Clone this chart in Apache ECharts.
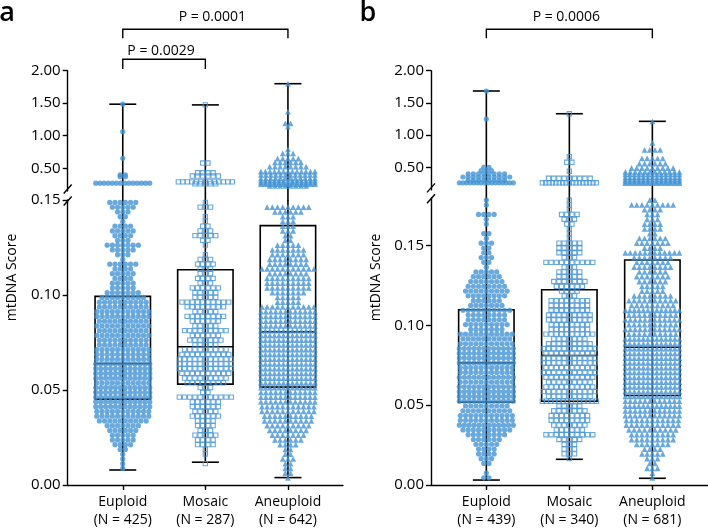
<!DOCTYPE html>
<html><head><meta charset="utf-8">
<script src="https://cdn.jsdelivr.net/npm/echarts@6/dist/echarts.min.js"></script>
<style>html,body{margin:0;padding:0;background:#fff}#c{width:708px;height:529px}</style>
</head><body><div id="c"></div>
<script>
// ---------------- DATA ----------------
const categories = ['Euploid', 'Mosaic', 'Aneuploid'];
const nA = [425, 287, 642];
const nB = [439, 340, 681];
const pLabelsA = ['P = 0.0029', 'P = 0.0001'];
const pLabelsB = ['P = 0.0006'];
const lowerTicks = [0, 0.05, 0.10, 0.15];
const upperTicks = [0.5, 1.0, 1.5, 2.0];

// box statistics: [min, Q1, median, Q3, max]
const boxEuploidA   = [0.0079, 0.0452, 0.0639, 0.0993, 1.485];
const boxMosaicA    = [0.0120, 0.0531, 0.0728, 0.1133, 1.474];
const boxAneuploidA = [0.0039, 0.0515, 0.0806, 0.1365, 1.800];
const boxEuploidB   = [0.0031, 0.0519, 0.0765, 0.1098, 1.685];
const boxMosaicB    = [0.0161, 0.0525, 0.0811, 0.1223, 1.332];
const boxAneuploidB = [0.0042, 0.0561, 0.0863, 0.1410, 1.214];

// lower-segment point counts per value bin (bin k covers k*bin .. (k+1)*bin)
const binA = 0.0025;
const euploidA_bins   = [0,0,0,1,1,1,1,2,4,5, 5,6,7,10,11,11,12,12,12,12, 12,11,12,12,12,12,11,11,11,10, 10,11,10,11,10,11,11,10,10,9, 7,5,5,4,5,4,6,1,3,5, 7,3,4,5,4,1,2,3,5,6];
const mosaicA_bins    = [0,0,0,0,1,0,1,1,4,4, 5,3,4,4,6,5,6,6,11,2, 3,8,9,10,11,11,11,10,9,5, 7,6,9,5,6,8,5,8,10,5, 5,6,3,4,3,3,4,3,1,0, 1,2,5,3,2,1,1,0,3,1];
const aneuploidA_bins = [0,1,2,2,2,3,2,2,4,6, 7,8,9,10,10,11,11,12,12,12, 13,13,13,13,13,13,13,13,13,13, 13,13,13,12,12,12,12,11,5,5, 7,9,9,9,8,11,8,8,7,7, 5,2,2,3,3,3,3,6,9,0];
const binB = 0.003;
const euploidB_bins   = [0,2,1,0,2,3,4,4,5,6, 8,10,12,11,11,10,9,12,12,12, 12,11,12,11,11,12,12,12,12,11, 10,11,7,9,8,8,10,7,6,8, 9,8,7,6,5,1,2,3,2,2, 3,1,2,0,1,1,4,0,1,1];
const mosaicB_bins    = [0,0,0,0,0,1,3,3,3,5, 10,6,7,8,8,7,5,14,9,11, 10,9,10,11,10,11,11,10,11,9, 7,10,8,8,9,9,8,8,8,3, 4,6,7,5,5,3,10,3,5,5, 5,1,1,1,2,3,4,1,1,1];
const aneuploidB_bins = [0,1,1,3,2,3,5,4,7,9, 9,10,11,11,12,12,13,12,13,13, 13,13,13,13,13,13,13,13,13,13, 13,10,12,10,12,10,13,9,10,8, 5,5,6,7,6,8,7,8,12,4, 7,6,2,4,4,3,3,4,9,2];

// upper-segment points: values and how many points share each value
const euploidA_upVals   = [1.485, 1.063, 0.654, 0.40, 0.37, 0.27];
const euploidA_upCounts = [1, 1, 1, 2, 2, 14];
const mosaicA_upVals    = [1.474, 0.58, 0.43, 0.38, 0.29, 0.26];
const mosaicA_upCounts  = [1, 2, 4, 6, 13, 5];
const aneuploidA_upVals   = [1.80, 1.37, 1.19, 1.14, 0.79, 0.73, 0.65, 0.59, 0.525, 0.45, 0.40, 0.345, 0.31, 0.28, 0.255, 0.23];
const aneuploidA_upCounts = [1, 1, 2, 1, 1, 3, 5, 6, 8, 13, 12, 12, 13, 13, 13, 8];
const euploidB_upVals   = [1.685, 1.25, 0.50, 0.45, 0.40, 0.35, 0.30, 0.26];
const euploidB_upCounts = [1, 1, 2, 3, 8, 10, 8, 16];
const mosaicB_upVals    = [1.332, 0.665, 0.578, 0.44, 0.33, 0.26];
const mosaicB_upCounts  = [1, 1, 2, 1, 9, 17];
const aneuploidB_upVals   = [1.214, 0.882, 0.77, 0.64, 0.56, 0.49, 0.43, 0.39, 0.345, 0.31, 0.28, 0.255];
const aneuploidB_upCounts = [1, 1, 4, 5, 6, 9, 12, 13, 13, 13, 13, 13];

// ---------------- LAYOUT / STYLE ----------------
const BLUE = '#4393d4';
const FONT = 'Open Sans';
const catPos = [0.2, 0.5, 0.8];
const lowerMaxA = 0.15, lowerMaxB = 0.18, upperMin = 0.15, upperMax = 2.0;
const G = {
  aLow: {left: 67.7, top: 200, width: 275.3, height: 285.7},
  aUp:  {left: 67.7, top: 70.7, width: 275.3, height: 120.3},
  bLow: {left: 431, top: 197.7, width: 276.7, height: 288},
  bUp:  {left: 431, top: 70.7, width: 276.7, height: 119.2}
};
const BOXW = 27.7, CAPW = 13.5, MAXROW = 54;

function rowsFromBins(counts, bin) {
  return counts.map((c, k) => [(k + 0.5) * bin, c]).filter(r => r[1] > 0);
}
function rowsFromList(vals, counts) { return vals.map((v, i) => [v, counts[i]]); }
function swarm(rows, cx, gridW) {
  const pts = [];
  rows.forEach(([v, n]) => {
    const s = n > 1 ? Math.min(5.2, MAXROW / (n - 1)) : 0;
    for (let i = 0; i < n; i++) pts.push([cx + ((i - (n - 1) / 2) * s) / gridW, v]);
  });
  return pts;
}

const symbols = [
  {symbol: 'circle', symbolSize: 5.2, itemStyle: {color: BLUE}},
  {symbol: 'rect', symbolSize: 4.3, itemStyle: {color: 'rgba(255,255,255,0)', borderColor: BLUE, borderWidth: 1.1}},
  {symbol: 'triangle', symbolSize: 5.8, itemStyle: {color: BLUE}}
];

const panels = [
  {low: 0, up: 1, gl: G.aLow, gu: G.aUp, bin: binA, lowMax: lowerMaxA,
   bins: [euploidA_bins, mosaicA_bins, aneuploidA_bins],
   upV: [euploidA_upVals, mosaicA_upVals, aneuploidA_upVals],
   upC: [euploidA_upCounts, mosaicA_upCounts, aneuploidA_upCounts],
   box: [boxEuploidA, boxMosaicA, boxAneuploidA], n: nA},
  {low: 2, up: 3, gl: G.bLow, gu: G.bUp, bin: binB, lowMax: lowerMaxB,
   bins: [euploidB_bins, mosaicB_bins, aneuploidB_bins],
   upV: [euploidB_upVals, mosaicB_upVals, aneuploidB_upVals],
   upC: [euploidB_upCounts, mosaicB_upCounts, aneuploidB_upCounts],
   box: [boxEuploidB, boxMosaicB, boxAneuploidB], n: nB}
];

const axisLineStyle = {color: '#000', width: 1.4};
const catLabelStyle = {color: '#000', fontFamily: FONT, fontSize: 14};
const tickLabelStyle = {color: '#000', fontFamily: FONT, fontSize: 15};
const fmt2 = v => Number(v).toFixed(2);

const grids = [], xAxes = [], yAxes = [], series = [];
panels.forEach((P, pi) => {
  grids[P.low] = P.gl; grids[P.up] = P.gu;
  const nArr = P.n;
  xAxes[P.low] = {
    gridIndex: P.low, type: 'value', min: 0, max: 1,
    axisLine: {show: true, onZero: false, lineStyle: axisLineStyle},
    axisTick: {show: true, length: 5, customValues: catPos, lineStyle: axisLineStyle},
    axisLabel: Object.assign({}, catLabelStyle, {
      customValues: catPos, margin: 8, lineHeight: 18,
      formatter: v => {
        const i = catPos.findIndex(c => Math.abs(c - v) < 1e-6);
        return i < 0 ? '' : categories[i] + '\n(N = ' + nArr[i] + ')';
      }
    }),
    splitLine: {show: false}
  };
  xAxes[P.up] = {gridIndex: P.up, type: 'value', min: 0, max: 1, show: false};
  yAxes[P.low] = {
    gridIndex: P.low, type: 'value', min: 0, max: P.lowMax,
    axisLine: {show: true, lineStyle: axisLineStyle},
    axisTick: {show: true, length: 5, customValues: lowerTicks, lineStyle: axisLineStyle},
    axisLabel: Object.assign({}, tickLabelStyle, {customValues: lowerTicks, margin: 7, formatter: fmt2}),
    splitLine: {show: false}
  };
  yAxes[P.up] = {
    gridIndex: P.up, type: 'value', min: upperMin, max: upperMax,
    axisLine: {show: true, lineStyle: axisLineStyle},
    axisTick: {show: true, length: 5, customValues: upperTicks, lineStyle: axisLineStyle},
    axisLabel: Object.assign({}, tickLabelStyle, {customValues: upperTicks, margin: 7, formatter: fmt2}),
    splitLine: {show: false}
  };

  // boxes + whiskers (lower segment)
  series.push({
    type: 'custom', xAxisIndex: P.low, yAxisIndex: P.low, z: 2, silent: true, clip: false,
    data: P.box.map((b, i) => [catPos[i], b[0], b[1], b[2], b[3], P.lowMax]),
    renderItem: (params, api) => {
      const x = api.value(0);
      const c = v => api.coord([x, v]);
      const pMin = c(api.value(1)), pQ1 = c(api.value(2)), pMed = c(api.value(3)), pQ3 = c(api.value(4)), pTop = c(api.value(5));
      const cx = pMin[0];
      const st = {stroke: '#000', lineWidth: 1.6};
      return {type: 'group', children: [
        {type: 'line', shape: {x1: cx, y1: pMin[1], x2: cx, y2: pTop[1]}, style: st},
        {type: 'line', shape: {x1: cx - CAPW, y1: pMin[1], x2: cx + CAPW, y2: pMin[1]}, style: st},
        {type: 'rect', shape: {x: cx - BOXW, y: pQ3[1], width: 2 * BOXW, height: pQ1[1] - pQ3[1]}, style: {stroke: '#000', lineWidth: 1.6, fill: 'rgba(0,0,0,0)'}},
        {type: 'line', shape: {x1: cx - BOXW, y1: pMed[1], x2: cx + BOXW, y2: pMed[1]}, style: st}
      ]};
    }
  });
  // upper whisker segment (bridges the axis break)
  series.push({
    type: 'custom', xAxisIndex: P.up, yAxisIndex: P.up, z: 2, silent: true, clip: false,
    data: P.box.map((b, i) => [catPos[i], b[4]]),
    renderItem: (params, api) => {
      const x = api.value(0);
      const pMax = api.coord([x, api.value(1)]);
      const pBase = api.coord([x, 0]);
      const cx = pMax[0];
      const st = {stroke: '#000', lineWidth: 1.6};
      return {type: 'group', children: [
        {type: 'line', shape: {x1: cx, y1: pBase[1], x2: cx, y2: pMax[1]}, style: st},
        {type: 'line', shape: {x1: cx - CAPW, y1: pMax[1], x2: cx + CAPW, y2: pMax[1]}, style: st}
      ]};
    }
  });
  // swarm points
  for (let g = 0; g < 3; g++) {
    const lowPts = swarm(rowsFromBins(P.bins[g], P.bin), catPos[g], P.gl.width);
    const upPts = swarm(rowsFromList(P.upV[g], P.upC[g]), catPos[g], P.gu.width);
    series.push(Object.assign({type: 'scatter', xAxisIndex: P.low, yAxisIndex: P.low, z: 3, silent: true, data: lowPts, animation: false}, symbols[g]));
    series.push(Object.assign({type: 'scatter', xAxisIndex: P.up, yAxisIndex: P.up, z: 3, silent: true, data: upPts, animation: false}, symbols[g]));
  }
});

const chart = echarts.init(document.getElementById('c'), null, {renderer: 'canvas'});
chart.setOption({
  backgroundColor: '#fff', animation: false,
  grid: grids, xAxis: xAxes, yAxis: yAxes, series: series
});

// ---------------- ANNOTATIONS ----------------
const px = (g, x, y) => chart.convertToPixel({gridIndex: g}, [x, y]);
const graphics = [];
const lineSt = {stroke: '#000', lineWidth: 1.4};
function bracket(g, i0, i1, yTop, yBot, text, textY, textDx) {
  const x0 = px(g, catPos[i0], 0)[0], x1 = px(g, catPos[i1], 0)[0];
  graphics.push({type: 'polyline', shape: {points: [[x0, yBot], [x0, yTop], [x1, yTop], [x1, yBot]]}, style: Object.assign({fill: null}, lineSt)});
  graphics.push({type: 'text', style: {text: text, x: (x0 + x1) / 2 + textDx, y: textY, font: '14px "' + FONT + '"', fill: '#000', textAlign: 'center', textVerticalAlign: 'middle'}});
}
bracket(0, 0, 2, 29.3, 38.3, pLabelsA[1], 17, 7);
bracket(0, 0, 1, 59.3, 69, pLabelsA[0], 51.5, -3);
bracket(2, 0, 2, 29.3, 38.3, pLabelsB[0], 17, -3);

panels.forEach((P, pi) => {
  const upBot = px(P.up, 0, upperMin);
  const lowTop = px(P.low, 0, P.lowMax);
  [upBot[1] - 2, lowTop[1] + 1].forEach(yc => {
    graphics.push({type: 'line', shape: {x1: upBot[0] - 4, y1: yc + 4.5, x2: upBot[0] + 4, y2: yc - 4.5}, style: lineSt});
  });
  graphics.push({type: 'text', rotation: Math.PI / 2, x: pi === 0 ? 12.5 : 376.5, y: 277.5,
    style: {text: 'mtDNA Score', x: 0, y: 0, font: '14px "' + FONT + '"', fill: '#000', textAlign: 'center', textVerticalAlign: 'middle'}});
});
graphics.push({type: 'text', style: {text: 'a', x: 7, y: 13, font: '600 27px "' + FONT + '"', fill: '#000', textAlign: 'center', textVerticalAlign: 'middle'}});
graphics.push({type: 'text', style: {text: 'b', x: 368, y: 13, font: '600 27px "' + FONT + '"', fill: '#000', textAlign: 'center', textVerticalAlign: 'middle'}});
chart.setOption({graphic: graphics});
</script>
</body></html>
